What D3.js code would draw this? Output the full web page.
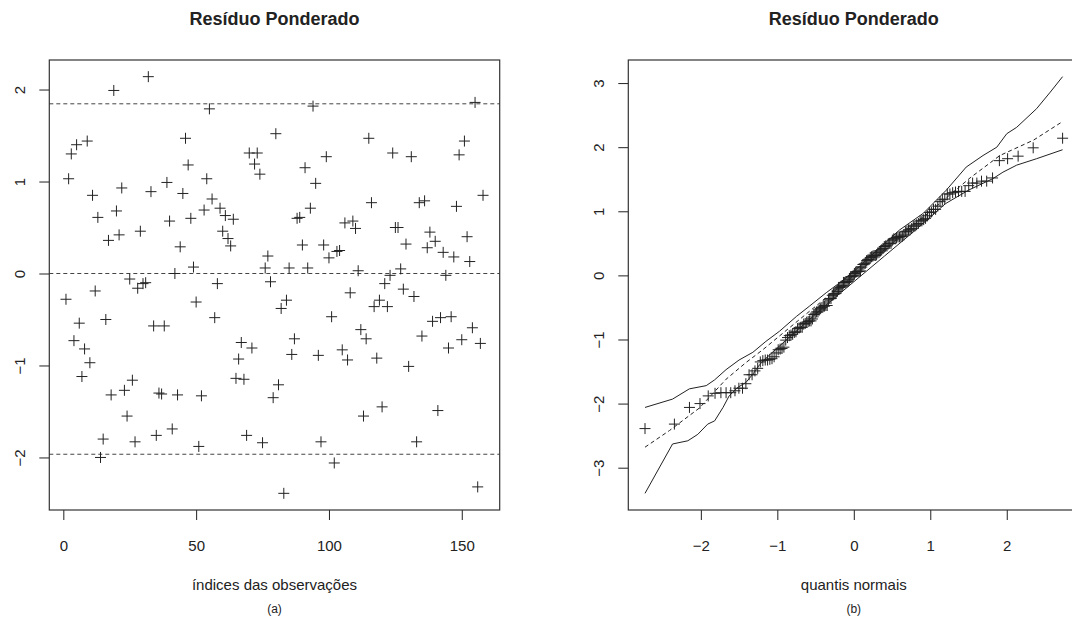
<!DOCTYPE html>
<html>
<head>
<meta charset="utf-8">
<script src="https://cdn.jsdelivr.net/npm/d3@7"></script>
<style>
  body { margin: 0; background: #fff; }
  svg { display: block; font-family: "Liberation Sans", Arial, Helvetica, sans-serif; }
</style>
</head>
<body>
<svg id="grafico" width="1072" height="625"></svg>
<script>
// Resíduos ponderados, na ordem das observações
const residuos = [
  -0.28, 1.03, 1.30, -0.73, 1.40, -0.54, -1.12, -0.82, 1.44, -0.97,
  0.85, -0.19, 0.61, -2.00, -1.80, -0.50, 0.36, -1.32, 1.99, 0.68,
  0.42, 0.93, -1.27, -1.55, -0.06, -1.16, -1.83, -0.16, 0.46, -0.11,
  -0.10, 2.14, 0.89, -0.57, -1.76, -1.30, -1.31, -0.57, 0.99, 0.57,
  -1.69, 0.00, -1.32, 0.29, 0.87, 1.47, 1.18, 0.60, 0.07, -0.31,
  -1.88, -1.33, 0.69, 1.03, 1.79, 0.81, -0.48, -0.11, 0.71, 0.46,
  0.63, 0.38, 0.30, 0.59, -1.14, -0.93, -0.75, -1.15, -1.76, 1.31,
  -0.81, 1.19, 1.31, 1.08, -1.84, 0.06, 0.19, -0.09, -1.35, 1.52,
  -1.21, -0.38, -2.39, -0.29, 0.06, -0.88, -0.71, 0.60, 0.61, 0.31,
  1.15, 0.06, 0.71, 1.82, 0.98, -0.89, -1.83, 0.31, 1.27, 0.17,
  -0.47, -2.06, 0.24, 0.25, -0.83, 0.55, -0.94, -0.21, 0.57, 0.49,
  0.03, -0.61, -1.55, -0.71, 1.47, 0.77, -0.36, -0.92, -0.29, -1.45,
  -0.11, -0.36, -0.02, 1.31, 0.50, 0.50, 0.05, -0.17, 0.32, -1.01,
  1.27, -0.25, -1.83, 0.77, -0.68, 0.79, 0.28, 0.45, -0.52, 0.35,
  -1.49, -0.48, 0.23, -0.02, -0.81, -0.47, 0.18, 0.73, 1.29, -0.72,
  1.44, 0.40, 0.13, -0.59, 1.86, -2.32, -0.76, 0.85
];

// linhas tracejadas de referência do painel (a)
const linhasRef = [1.845, 0, -1.965];

// envelopes simulados do painel (b): [quantil, valor]
const envInferior = [
  [-2.73, -3.40], [-2.37, -2.63], [-2.17, -2.58], [-2.04, -2.48], [-1.91, -2.32],
  [-1.82, -2.27], [-1.71, -2.06], [-1.63, -1.88], [-1.52, -1.75], [-1.41, -1.67],
  [-1.32, -1.54], [-1.23, -1.39], [-1.12, -1.26], [-0.80, -0.92], [-0.40, -0.50],
  [0.00, -0.10], [0.40, 0.30], [0.80, 0.70], [1.20, 1.12], [1.50, 1.33],
  [1.82, 1.51], [1.95, 1.61], [2.13, 1.72], [2.39, 1.82], [2.73, 1.96]
];
const envMedia = [
  [-2.73, -2.68], [-2.41, -2.42], [-2.02, -2.07], [-1.67, -1.62], [-1.41, -1.36],
  [-1.19, -1.16], [-0.60, -0.58], [0.00, 0.00], [0.60, 0.60], [1.20, 1.20],
  [1.52, 1.52], [1.91, 1.87], [2.35, 2.11], [2.73, 2.40]
];
const envSuperior = [
  [-2.73, -2.06], [-2.37, -1.93], [-2.15, -1.77], [-1.93, -1.72], [-1.82, -1.63],
  [-1.67, -1.47], [-1.50, -1.32], [-1.32, -1.20], [-1.15, -1.03], [-0.97, -0.87],
  [-0.75, -0.64], [-0.58, -0.48], [-0.36, -0.27], [-0.19, -0.12], [0.00, 0.06],
  [0.21, 0.29], [0.60, 0.71], [0.91, 0.97], [1.21, 1.33], [1.47, 1.69],
  [1.69, 1.87], [1.87, 2.00], [2.00, 2.21], [2.13, 2.31], [2.39, 2.60],
  [2.57, 2.86], [2.73, 3.10]
];

// marcas dos eixos
const ticksIndice = [0, 50, 100, 150];
const ticksResiduo = [-2, -1, 0, 1, 2];
const ticksQuantil = [-2, -1, 0, 1, 2];
const ticksQQ = [-3, -2, -1, 0, 1, 2, 3];

const titulo = "Resíduo Ponderado";
const COR = "#222";

// quantil da normal padrão (Acklam)
function qnorm(p) {
  const a = [-3.969683028665376e+01, 2.209460984245205e+02, -2.759285104469687e+02, 1.383577518672690e+02, -3.066479806614716e+01, 2.506628277459239e+00];
  const b = [-5.447609879822406e+01, 1.615858368580409e+02, -1.556989798598866e+02, 6.680131188771972e+01, -1.328068155288572e+01];
  const c = [-7.784894002430293e-03, -3.223964580411365e-01, -2.400758277161838e+00, -2.549732539343734e+00, 4.374664141464968e+00, 2.938163982698783e+00];
  const d = [7.784695709041462e-03, 3.224671290700398e-01, 2.445134137142996e+00, 3.754408661907416e+00];
  const pl = 0.02425;
  let q, r;
  if (p < pl) {
    q = Math.sqrt(-2 * Math.log(p));
    return (((((c[0]*q+c[1])*q+c[2])*q+c[3])*q+c[4])*q+c[5]) / ((((d[0]*q+d[1])*q+d[2])*q+d[3])*q+1);
  }
  if (p > 1 - pl) {
    q = Math.sqrt(-2 * Math.log(1 - p));
    return -(((((c[0]*q+c[1])*q+c[2])*q+c[3])*q+c[4])*q+c[5]) / ((((d[0]*q+d[1])*q+d[2])*q+d[3])*q+1);
  }
  q = p - 0.5; r = q * q;
  return (((((a[0]*r+a[1])*r+a[2])*r+a[3])*r+a[4])*r+a[5])*q / (((((b[0]*r+b[1])*r+b[2])*r+b[3])*r+b[4])*r+1);
}

// extensão com folga de 4% (como no R)
function extensao(valores) {
  const [lo, hi] = d3.extent(valores);
  const f = (hi - lo) * 0.04;
  return [lo - f, hi + f];
}

const svg = d3.select("#grafico");
const fmt = d3.format("d");

function cruz(g, pontos, x, y) {
  g.selectAll("path.cruz")
    .data(pontos)
    .join("path")
    .attr("class", "cruz")
    .attr("d", d => {
      const px = x(d[0]), py = y(d[1]), s = 5.5;
      return `M${px - s},${py}H${px + s}M${px},${py - s}V${py + s}`;
    })
    .attr("stroke", COR)
    .attr("stroke-width", 1)
    .attr("fill", "none");
}

function eixos(g, x, y, tx, ty, caixa, rotuloX, letra) {
  const [x0, x1] = x.range();
  const [y1, y0] = y.range();

  // eixo x
  const ax = g.append("g")
    .attr("transform", `translate(0,${y1})`)
    .call(d3.axisBottom(x).tickValues(tx).tickFormat(fmt).tickSize(10));
  ax.select(".domain").remove();
  ax.selectAll("line").attr("stroke", COR);
  ax.selectAll("text")
    .attr("y", 36).attr("dy", "0.35em")
    .attr("fill", COR).style("font-size", "15px");

  // eixo y, rótulos girados
  const ay = g.append("g")
    .attr("transform", `translate(${x0},0)`)
    .call(d3.axisLeft(y).tickValues(ty).tickFormat(fmt).tickSize(10));
  ay.select(".domain").remove();
  ay.selectAll("line").attr("stroke", COR);
  ay.selectAll("text")
    .attr("x", null).attr("dy", null)
    .attr("transform", "translate(-30,0) rotate(-90)")
    .attr("text-anchor", "middle")
    .attr("dominant-baseline", "central")
    .attr("fill", COR).style("font-size", "15px");

  // caixa
  g.append("rect")
    .attr("x", x0).attr("y", y0)
    .attr("width", caixa ? caixa - x0 : x1 - x0).attr("height", y1 - y0)
    .attr("fill", "none").attr("stroke", "#333").attr("stroke-width", 1.2);

  const cx = (x0 + x1) / 2;
  g.append("text")
    .attr("x", cx).attr("y", 19)
    .attr("text-anchor", "middle").attr("dominant-baseline", "central")
    .attr("fill", COR).style("font-size", "18px").style("font-weight", "bold")
    .text(titulo);
  g.append("text")
    .attr("x", cx).attr("y", 584)
    .attr("text-anchor", "middle").attr("dominant-baseline", "central")
    .attr("fill", COR).style("font-size", "15px")
    .text(rotuloX);
  g.append("text")
    .attr("x", cx).attr("y", 609)
    .attr("text-anchor", "middle").attr("dominant-baseline", "central")
    .attr("fill", COR).style("font-size", "12px")
    .text(letra);
}

// ---- painel (a): resíduos vs índice ----
const n = residuos.length;
const gA = svg.append("g");
const xA = d3.scaleLinear().domain(extensao([1, n])).range([49.3, 499.7]);
const yA = d3.scaleLinear().domain(extensao(residuos)).range([510, 60]);

gA.selectAll("line.ref")
  .data(linhasRef)
  .join("line")
  .attr("class", "ref")
  .attr("x1", xA.range()[0]).attr("x2", xA.range()[1])
  .attr("y1", d => yA(d)).attr("y2", d => yA(d))
  .attr("stroke", "#444").attr("stroke-width", 1)
  .attr("stroke-dasharray", "4,3");

cruz(gA, residuos.map((v, i) => [i + 1, v]), xA, yA);
eixos(gA, xA, yA, ticksIndice, ticksResiduo, null, "índices das observações", "(a)");

// ---- painel (b): gráfico normal de probabilidades com envelope ----
const ordenados = residuos.slice().sort(d3.ascending);
const quantis = ordenados.map((_, i) => qnorm((i + 0.5) / n));
const gB = svg.append("g");
const xB = d3.scaleLinear().domain(extensao(quantis)).range([628.3, 1079.3]);
const todosY = ordenados.concat(envInferior.map(d => d[1]), envSuperior.map(d => d[1]));
const yB = d3.scaleLinear().domain(extensao(todosY)).range([510, 60]);

const linha = d3.line().x(d => xB(d[0])).y(d => yB(d[1]));
gB.append("path").datum(envInferior).attr("d", linha)
  .attr("fill", "none").attr("stroke", COR).attr("stroke-width", 1);
gB.append("path").datum(envSuperior).attr("d", linha)
  .attr("fill", "none").attr("stroke", COR).attr("stroke-width", 1);
gB.append("path").datum(envMedia).attr("d", linha)
  .attr("fill", "none").attr("stroke", COR).attr("stroke-width", 1)
  .attr("stroke-dasharray", "4,3");

cruz(gB, ordenados.map((v, i) => [quantis[i], v]), xB, yB);
eixos(gB, xB, yB, ticksQuantil, ticksQQ, null, "quantis normais", "(b)");
</script>
</body>
</html>
